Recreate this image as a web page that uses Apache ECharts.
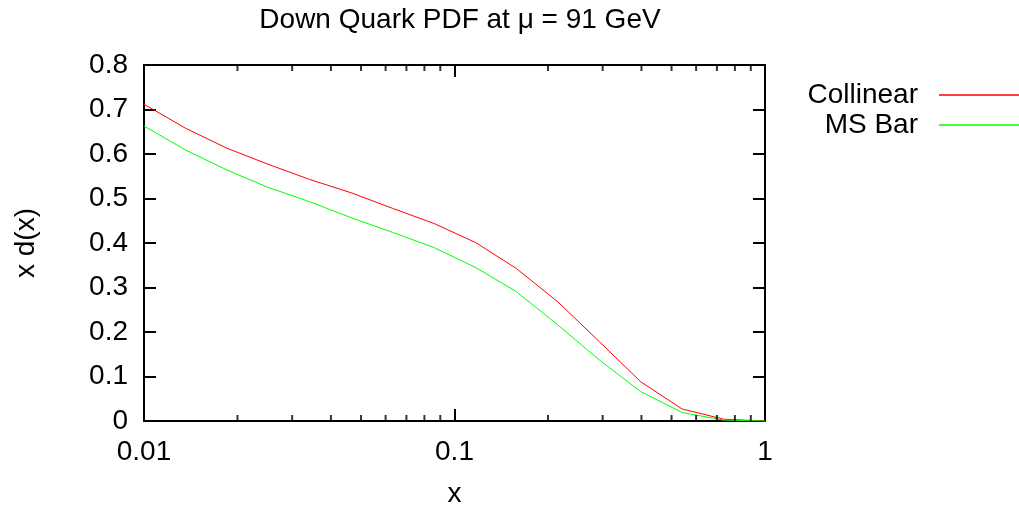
<!DOCTYPE html>
<html>
<head>
<meta charset="utf-8">
<script src="https://cdn.jsdelivr.net/npm/echarts@6/dist/echarts.min.js"></script>
<style>html,body{margin:0;padding:0;background:#fff;}#c{width:1019px;height:506px;}</style>
</head>
<body>
<div id="c"></div>
<script>
var xValues = [0.01, 0.0136, 0.0185, 0.0251, 0.0341, 0.0464, 0.0631, 0.0858, 0.117, 0.158, 0.215, 0.293, 0.398, 0.541, 0.736, 1.0];
var collinear = [0.712, 0.658, 0.613, 0.577, 0.543, 0.513, 0.478, 0.444, 0.401, 0.343, 0.268, 0.178, 0.088, 0.027, 0.004, 0.0];
var msBar = [0.663, 0.609, 0.564, 0.525, 0.493, 0.457, 0.424, 0.390, 0.345, 0.291, 0.216, 0.137, 0.066, 0.019, 0.002, 0.0];
var seriesNames = ['Collinear', 'MS Bar'];
var xMinorTicks = [0.02,0.03,0.04,0.05,0.06,0.07,0.08,0.09,0.2,0.3,0.4,0.5,0.6,0.7,0.8,0.9];
var yMin = 0, yMax = 0.8;

var FONT = 'Liberation Sans';
var FS = 28;
function pair(xs, ys){ return xs.map(function(x,i){ return [x, ys[i]]; }); }

// main log axes (major ticks at decades)
function xMain(pos, showLabel, name){
  var a = {
    type: 'log', logBase: 10, min: 0.01, max: 1, gridIndex: 0, position: pos,
    axisLine: {show: true, onZero: false, lineStyle: {color: '#000', width: 2}},
    axisTick: {show: true, inside: true, length: 12, lineStyle: {color: '#000', width: 2}},
    axisLabel: {show: showLabel, color: '#000', fontFamily: FONT, fontSize: FS, margin: 17},
    splitLine: {show: false}, minorTick: {show: false}
  };
  if (name) { a.name = name; a.nameLocation = 'middle'; a.nameGap = 59; a.nameTextStyle = {color:'#000', fontFamily: FONT, fontSize: FS}; }
  return a;
}
function yAx(pos, showLabel, name){
  var a = {
    type: 'value', min: yMin, max: yMax, interval: 0.1, gridIndex: 0, position: pos,
    axisLine: {show: true, onZero: false, lineStyle: {color: '#000', width: 2}},
    axisTick: {show: true, inside: true, length: 12, lineStyle: {color: '#000', width: 2}},
    axisLabel: {show: showLabel, color: '#000', fontFamily: FONT, fontSize: FS, margin: 16,
      formatter: function(v){ return String(+v.toFixed(2)); }},
    splitLine: {show: false}
  };
  if (name) { a.name = name; a.nameLocation = 'middle'; a.nameGap = 104; a.nameRotate = 90; a.nameTextStyle = {color:'#000', fontFamily: FONT, fontSize: FS}; }
  return a;
}
function legendFor(name, top){
  return {data: [name], orient: 'vertical', right: 0, top: top, padding: 0, align: 'right',
    icon: 'rect', itemWidth: 80, itemHeight: 1.5,
    textStyle: {color: '#000', fontFamily: FONT, fontSize: FS, padding: [0, 16, 0, 0]}};
}
// minor tick marks drawn as small rects through the log x scale
function minorTicks(yVal, offset){
  return {type: 'scatter', xAxisIndex: 0, yAxisIndex: 0, silent: true, clip: false, z: 5,
    data: xMinorTicks.map(function(v){ return [v, yVal]; }),
    symbol: 'rect', symbolSize: [2, 6], symbolOffset: [0, offset],
    itemStyle: {color: '#000'}, emphasis: {disabled: true}, tooltip: {show: false}};
}

var chart = echarts.init(document.getElementById('c'), null, {renderer: 'canvas'});
chart.setOption({
  backgroundColor: '#fff',
  animation: false,
  title: {text: 'Down Quark PDF at \u03bc = 91 GeV', left: 455, top: 1, textAlign: 'center',
    textStyle: {color: '#000', fontFamily: FONT, fontSize: FS, fontWeight: 'normal'}},
  grid: {left: 144, right: 254, top: 65, bottom: 85, containLabel: false, outerBoundsMode: 'none'},
  legend: [ legendFor(seriesNames[0], 81), legendFor(seriesNames[1], 111) ],
  xAxis: [ xMain('bottom', true, 'x'), xMain('top', false) ],
  yAxis: [ yAx('left', true, 'x d(x)'), yAx('right', false) ],
  series: [
    {name: seriesNames[0], type: 'line', xAxisIndex: 0, yAxisIndex: 0, data: pair(xValues, collinear),
      symbol: 'none', showSymbol: false, lineStyle: {color: '#ff0000', width: 1}, itemStyle: {color: '#ff0000'}},
    {name: seriesNames[1], type: 'line', xAxisIndex: 0, yAxisIndex: 0, data: pair(xValues, msBar),
      symbol: 'none', showSymbol: false, lineStyle: {color: '#00ff00', width: 1}, itemStyle: {color: '#00ff00'}},
    minorTicks(yMin, -3),
    minorTicks(yMax, 3)
  ]
});
</script>
</body>
</html>
